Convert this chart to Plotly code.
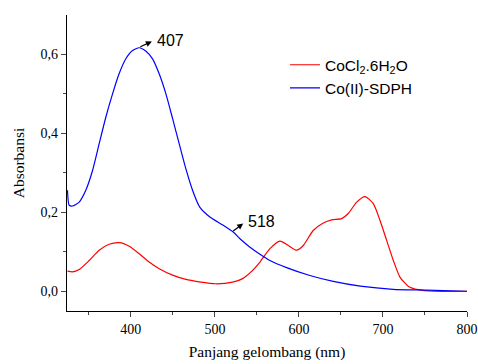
import plotly.graph_objects as go

# Co(II)-SDPH (blue)
wl_blue = [324.6, 326.6, 330.6, 338.5, 346.4, 354.4, 362.3, 370.2, 378.2, 386, 394, 402, 410,
           418, 425.8, 433.7, 441.7, 449.6, 457.5, 465.5, 473.4, 482, 494, 510, 521.8, 529.8,
           541, 553.6, 565.5, 585.3, 613, 640.9, 673, 712, 752, 800]
abs_blue = [0.256, 0.218, 0.216, 0.226, 0.256, 0.306, 0.374, 0.441, 0.50, 0.551, 0.589, 0.610,
            0.617, 0.608, 0.589, 0.551, 0.50, 0.438, 0.374, 0.31, 0.256, 0.213, 0.188, 0.167,
            0.150, 0.133, 0.113, 0.094, 0.078, 0.060, 0.040, 0.025, 0.013, 0.005, 0.003, 0.0]

# CoCl2.6H2O (red)
wl_red = [324.6, 330.6, 338.5, 350.4, 362.3, 374.2, 386, 398, 410, 421.8, 433.7, 449.6, 465.5,
          481.3, 501, 521, 533, 543, 553.6, 565.5, 577.4, 587.3, 597.3, 605.2, 617, 629, 639,
          650.8, 658.7, 668.7, 678.6, 688.5, 696.4, 704.4, 712.3, 720.2, 730, 742, 760, 800]
abs_red = [0.051, 0.049, 0.055, 0.078, 0.104, 0.119, 0.123, 0.114, 0.095, 0.074, 0.057, 0.041,
           0.030, 0.024, 0.019, 0.023, 0.032, 0.049, 0.074, 0.108, 0.127, 0.116, 0.104, 0.116,
           0.154, 0.173, 0.181, 0.184, 0.197, 0.226, 0.240, 0.222, 0.18, 0.129, 0.078, 0.036,
           0.013, 0.004, 0.0, 0.0]

x_ticks = [400, 500, 600, 700, 800]
y_ticks = [0.0, 0.2, 0.4, 0.6]

fig = go.Figure()
fig.add_trace(go.Scatter(x=wl_red, y=abs_red, mode="lines", name="CoCl<sub>2</sub>.6H<sub>2</sub>O",
                         line=dict(color="#ff0000", width=1.2, shape="spline", smoothing=0.6)))
fig.add_trace(go.Scatter(x=wl_blue, y=abs_blue, mode="lines", name="Co(II)-SDPH",
                         line=dict(color="#0000ff", width=1.2, shape="spline", smoothing=0.6)))

serif = "Times New Roman, Liberation Serif, serif"
sans = "Arial, Liberation Sans, sans-serif"

fig.update_layout(
    width=478, height=364,
    margin=dict(l=67, r=11, t=15, b=53),
    paper_bgcolor="white", plot_bgcolor="white",
    separators=",.",
    showlegend=True,
    legend=dict(x=0.545, y=0.888, xanchor="left", yanchor="top",
                font=dict(family=sans, size=15.5, color="black"),
                bgcolor="rgba(0,0,0,0)", tracegroupgap=0),
    xaxis=dict(range=[324, 800], tickvals=x_ticks, ticks="outside", ticklen=5, tickwidth=1.2,
               showline=True, linecolor="black", linewidth=1.3, showgrid=False, zeroline=False,
               automargin=False,
               tickfont=dict(family=serif, size=14, color="black"),
               minor=dict(tickvals=[350, 450, 550, 650, 750], ticks="outside", ticklen=3, tickwidth=1),
               title=dict(text="Panjang gelombang (nm)", font=dict(family=serif, size=15.5, color="black"),
                          standoff=10)),
    yaxis=dict(range=[-0.05, 0.70], tickvals=y_ticks, tickformat=".1f", ticks="outside", ticklen=5,
               tickwidth=1.2, showline=True, linecolor="black", linewidth=1.3, showgrid=False,
               zeroline=False, automargin=False,
               tickfont=dict(family=serif, size=14, color="black"),
               minor=dict(tickvals=[0.1, 0.3, 0.5], ticks="outside", ticklen=3, tickwidth=1),
               title=dict(text="Absorbansi", font=dict(family=serif, size=15.5, color="black"),
                          standoff=12)),
)

# arrows (head near label, tail on curve)
for head, tail in [((425, 0.633), (409.5, 0.618)), ((533.7, 0.1714), (520, 0.150))]:
    fig.add_annotation(x=head[0], y=head[1], ax=tail[0], ay=tail[1], axref="x", ayref="y",
                       xref="x", yref="y", text="", showarrow=True, arrowhead=2, arrowsize=1,
                       arrowwidth=1.2, arrowcolor="black")

fig.add_annotation(x=428.6, y=0.635, text="407", showarrow=False, xanchor="left", yanchor="middle",
                   font=dict(family=sans, size=16, color="black"))
fig.add_annotation(x=536.9, y=0.178, text="518", showarrow=False, xanchor="left", yanchor="middle",
                   font=dict(family=sans, size=16, color="black"))

fig.write_html("out.html")
